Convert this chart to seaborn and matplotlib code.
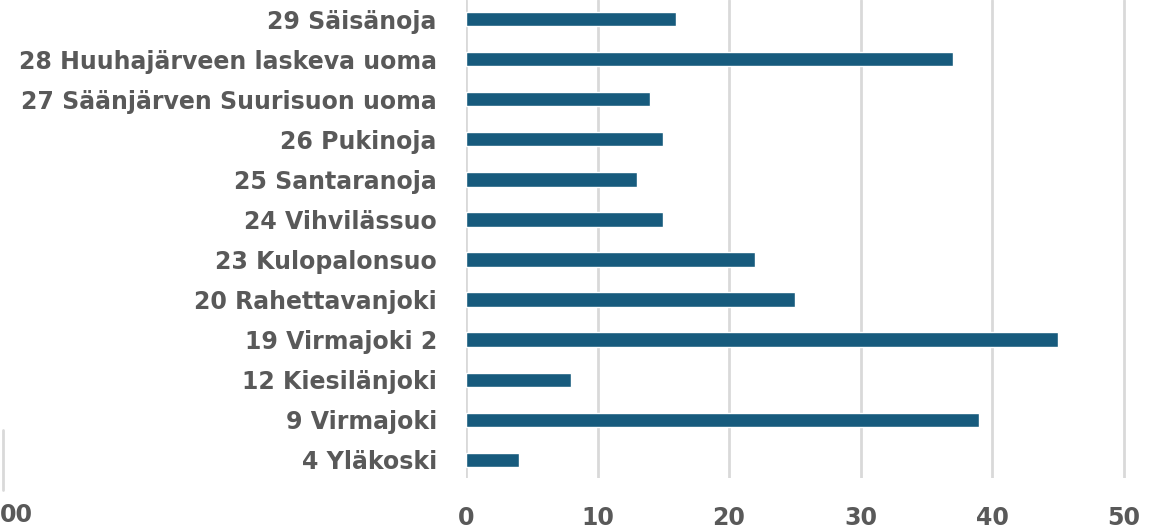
import seaborn as sns
import matplotlib.pyplot as plt
from matplotlib.lines import Line2D
import pandas as pd

# Datos
sites = ["29 Säisänoja", "28 Huuhajärveen laskeva uoma", "27 Säänjärven Suurisuon uoma",
         "26 Pukinoja", "25 Santaranoja", "24 Vihvilässuo", "23 Kulopalonsuo",
         "20 Rahettavanjoki", "19 Virmajoki 2", "12 Kiesilänjoki", "9 Virmajoki", "4 Yläkoski"]
values = [16, 37, 14, 15, 13, 15, 22, 25, 45, 8, 39, 4]
xticks = [0, 10, 20, 30, 40, 50]

df = pd.DataFrame({"site": sites, "value": values})

sns.set_style("white")
plt.rcParams['font.family'] = ['DejaVu Sans']

W, H = 1169, 529
fs = 17
fig = plt.figure(figsize=(W / 100, H / 100), dpi=100)
ax = fig.add_axes([466 / W, (H - 478) / H, (W - 466) / W, 478 / H])

sns.barplot(data=df, x="value", y="site", orient="h", color="#175b7d",
            width=0.36, saturation=1, ax=ax, zorder=3)

ax.set_xlim(0, (W - 466) / 13.15)
ax.set_ylim(11.45, -0.474)
ax.set_xticks(xticks)
ax.xaxis.grid(True, color="#d9d9d9", linewidth=2, zorder=0)
ax.yaxis.grid(False)
for s in ax.spines.values():
    s.set_visible(False)
ax.set_xlabel("")
ax.set_ylabel("")
ax.tick_params(axis="y", length=0, pad=21, labelsize=fs, labelcolor="#595959")
ax.tick_params(axis="x", length=0, pad=20, labelsize=fs, labelcolor="#595959")
for t in ax.get_yticklabels() + ax.get_xticklabels():
    t.set_fontweight("bold")

# resto de otro gráfico recortado a la izquierda
fig.add_artist(Line2D([3 / W, 3 / W], [(H - 490) / H, (H - 430) / H], color="#d9d9d9", linewidth=2))
fig.text(0, (H - 515) / H, "00", fontsize=fs, fontweight="bold", color="#595959",
         ha="left", va="center")

fig.savefig("out.png", dpi=100)
